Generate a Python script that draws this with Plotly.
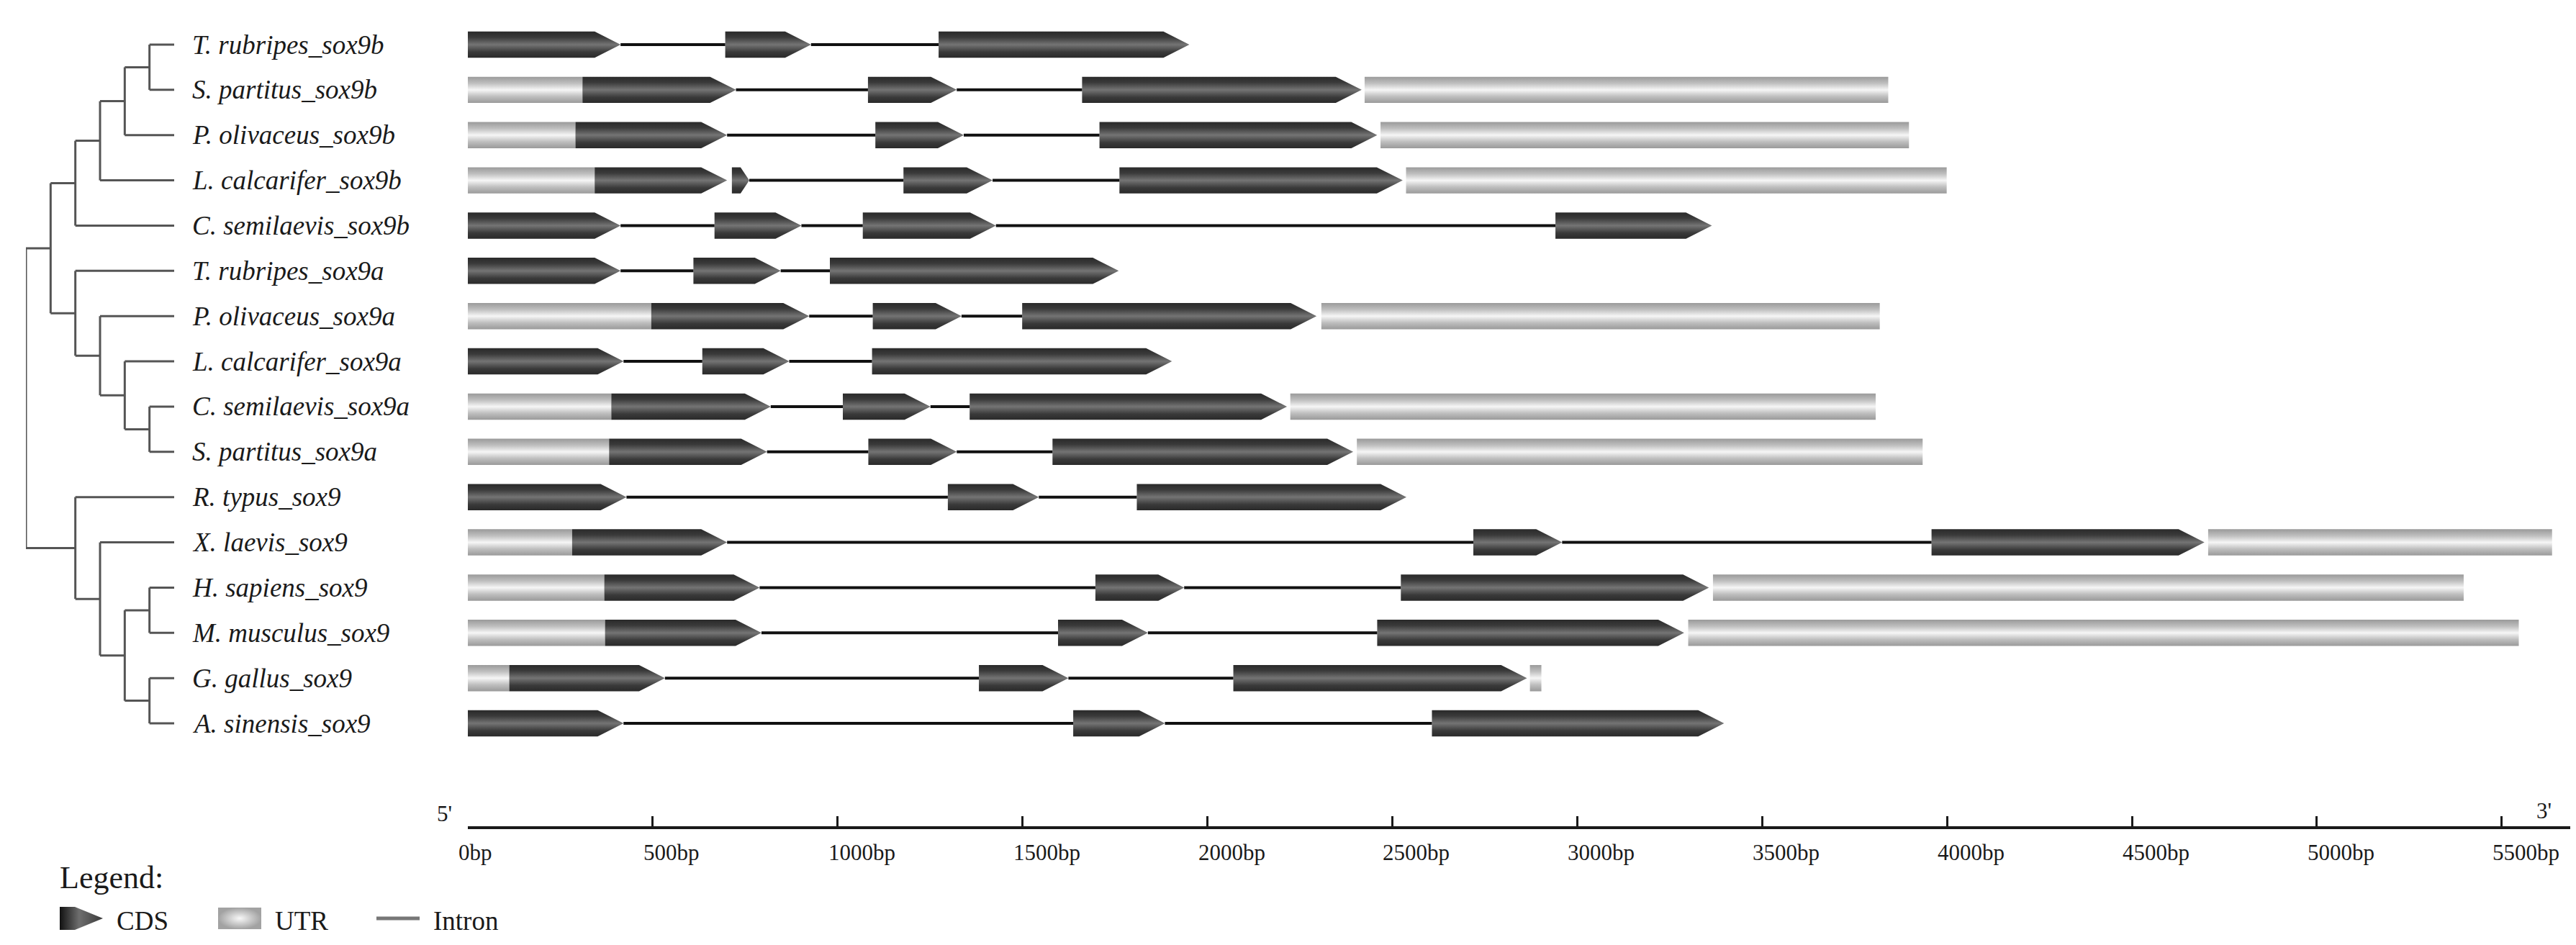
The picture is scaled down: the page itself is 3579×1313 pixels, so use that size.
import plotly.graph_objects as go

W, H = 3579, 1313

# ---- cladogram (leaf order gives the row order, top to bottom) ----
SOX9B = (((("T. rubripes_sox9b", "S. partitus_sox9b"), "P. olivaceus_sox9b"),
          "L. calcarifer_sox9b"), "C. semilaevis_sox9b")
SOX9A = ("T. rubripes_sox9a", ("P. olivaceus_sox9a", ("L. calcarifer_sox9a",
                                                      ("C. semilaevis_sox9a", "S. partitus_sox9a"))))
SOX9 = ("R. typus_sox9", ("X. laevis_sox9", (("H. sapiens_sox9", "M. musculus_sox9"),
                                             ("G. gallus_sox9", "A. sinensis_sox9"))))
TREE = ((SOX9B, SOX9A), SOX9)

# ---- gene structures: (kind, start bp, end bp); introns join consecutive parts ----
T_RUBRIPES_SOX9B = [("CDS", 0, 413), ("CDS", 696, 928), ("CDS", 1273, 1951)]
S_PARTITUS_SOX9B = [("UTR", 0, 310), ("CDS", 310, 725), ("CDS", 1082, 1322),
                    ("CDS", 1661, 2417), ("UTR", 2425, 3841)]
P_OLIVACEUS_SOX9B = [("UTR", 0, 291), ("CDS", 291, 701), ("CDS", 1102, 1341),
                     ("CDS", 1708, 2459), ("UTR", 2468, 3897)]
L_CALCARIFER_SOX9B = [("UTR", 0, 343), ("CDS", 343, 701), ("CDS", 714, 761), ("CDS", 1178, 1419),
                      ("CDS", 1762, 2528), ("UTR", 2537, 3999)]
C_SEMILAEVIS_SOX9B = [("CDS", 0, 413), ("CDS", 667, 902), ("CDS", 1068, 1428), ("CDS", 2941, 3364)]
T_RUBRIPES_SOX9A = [("CDS", 0, 413), ("CDS", 610, 846), ("CDS", 979, 1760)]
P_OLIVACEUS_SOX9A = [("UTR", 0, 496), ("CDS", 496, 923), ("CDS", 1095, 1335),
                     ("CDS", 1499, 2295), ("UTR", 2308, 3818)]
L_CALCARIFER_SOX9A = [("CDS", 0, 421), ("CDS", 634, 869), ("CDS", 1093, 1904)]
C_SEMILAEVIS_SOX9A = [("UTR", 0, 388), ("CDS", 388, 819), ("CDS", 1014, 1251),
                      ("CDS", 1357, 2215), ("UTR", 2224, 3807)]
S_PARTITUS_SOX9A = [("UTR", 0, 382), ("CDS", 382, 809), ("CDS", 1083, 1322),
                    ("CDS", 1581, 2394), ("UTR", 2404, 3934)]
R_TYPUS_SOX9 = [("CDS", 0, 429), ("CDS", 1298, 1544), ("CDS", 1809, 2538)]
X_LAEVIS_SOX9 = [("UTR", 0, 282), ("CDS", 282, 701), ("CDS", 2719, 2959),
                 ("CDS", 3958, 4696), ("UTR", 4706, 5636)]
H_SAPIENS_SOX9 = [("UTR", 0, 369), ("CDS", 369, 789), ("CDS", 1697, 1937),
                  ("CDS", 2523, 3356), ("UTR", 3367, 5397)]
M_MUSCULUS_SOX9 = [("UTR", 0, 371), ("CDS", 371, 794), ("CDS", 1596, 1839),
                   ("CDS", 2459, 3289), ("UTR", 3300, 5546)]
G_GALLUS_SOX9 = [("UTR", 0, 112), ("CDS", 112, 533), ("CDS", 1382, 1624),
                 ("CDS", 2070, 2864), ("UTR", 2872, 2903)]
A_SINENSIS_SOX9 = [("CDS", 0, 421), ("CDS", 1637, 1885), ("CDS", 2607, 3397)]

STRUCTURES = {
    "T. rubripes_sox9b": T_RUBRIPES_SOX9B, "S. partitus_sox9b": S_PARTITUS_SOX9B,
    "P. olivaceus_sox9b": P_OLIVACEUS_SOX9B, "L. calcarifer_sox9b": L_CALCARIFER_SOX9B,
    "C. semilaevis_sox9b": C_SEMILAEVIS_SOX9B, "T. rubripes_sox9a": T_RUBRIPES_SOX9A,
    "P. olivaceus_sox9a": P_OLIVACEUS_SOX9A, "L. calcarifer_sox9a": L_CALCARIFER_SOX9A,
    "C. semilaevis_sox9a": C_SEMILAEVIS_SOX9A, "S. partitus_sox9a": S_PARTITUS_SOX9A,
    "R. typus_sox9": R_TYPUS_SOX9, "X. laevis_sox9": X_LAEVIS_SOX9,
    "H. sapiens_sox9": H_SAPIENS_SOX9, "M. musculus_sox9": M_MUSCULUS_SOX9,
    "G. gallus_sox9": G_GALLUS_SOX9, "A. sinensis_sox9": A_SINENSIS_SOX9,
}

TICKS = [0, 500, 1000, 1500, 2000, 2500, 3000, 3500, 4000, 4500, 5000, 5500]
AXIS_END = 5691
LEGEND_ITEMS = ["CDS", "UTR", "Intron"]

SERIF = "Liberation Serif"
INK = "#1a1a1a"
CDS_SCALE = [[0, "#2a2a2a"], [0.22, "#3a3a3a"], [0.5, "#747474"], [0.78, "#3a3a3a"], [1, "#2a2a2a"]]
UTR_SCALE = [[0, "#9a9a9a"], [0.25, "#bfbfbf"], [0.5, "#f6f6f6"], [0.75, "#bfbfbf"], [1, "#9a9a9a"]]
HALF = 0.29      # half box height, in rows
HEAD = 70        # arrow head length, bp


def leaves(node):
    if isinstance(node, str):
        return [node]
    return [l for c in node for l in leaves(c)]


def height(node):
    return 0 if isinstance(node, str) else 1 + max(height(c) for c in node)


LEAVES = leaves(TREE)
TOP = height(TREE)


def walk(node, xs, ys):
    if isinstance(node, str):
        return TOP, LEAVES.index(node)
    x = TOP - height(node)
    kids = [walk(c, xs, ys) for c in node]
    y = sum(k[1] for k in kids) / len(kids)
    xs += [x, x, None]
    ys += [kids[0][1], kids[-1][1], None]
    for kx, ky in kids:
        xs += [x, kx, None]
        ys += [ky, ky, None]
    return x, y


def arrow(s, e, yc, half, head):
    return ([s, e - head, e, e - head, s, s, None],
            [yc - half, yc - half, yc, yc + half, yc + half, yc - half, None])


def box(s, e, yc, half):
    return [s, e, e, s, s, None], [yc - half, yc - half, yc + half, yc + half, yc - half, None]


fig = go.Figure()

# tree
tx, ty = [], []
walk(TREE, tx, ty)
fig.add_trace(go.Scatter(x=tx, y=ty, xaxis="x2", yaxis="y", mode="lines",
                         line=dict(color="#555555", width=3), hoverinfo="skip", showlegend=False))

# genes
ix, iy = [], []
for row, name in enumerate(LEAVES):
    parts = STRUCTURES[name]
    cx, cy, ux, uy = [], [], [], []
    for kind, s, e in parts:
        if kind == "CDS":
            px, py = arrow(s, e, row, HALF, min(HEAD, (e - s) / 2))
            cx += px
            cy += py
        else:
            px, py = box(s, e, row, HALF)
            ux += px
            uy += py
    for (_, _, e0), (_, s1, _) in zip(parts[:-1], parts[1:]):
        if s1 - e0 > 20:
            ix += [e0, s1, None]
            iy += [row, row, None]
    if ux:
        fig.add_trace(go.Scatter(x=ux, y=uy, mode="lines", fill="toself", line=dict(width=0),
                                 fillgradient=dict(type="vertical", colorscale=UTR_SCALE),
                                 hoverinfo="skip", showlegend=False))
    fig.add_trace(go.Scatter(x=cx, y=cy, mode="lines", fill="toself", line=dict(width=0),
                             fillgradient=dict(type="vertical", colorscale=CDS_SCALE),
                             hoverinfo="skip", showlegend=False))

fig.add_trace(go.Scatter(x=ix, y=iy, mode="lines", line=dict(color="#111111", width=4),
                         hoverinfo="skip", showlegend=False))

# legend key, drawn on a small pixel-unit subplot (x3/y3) in the bottom-left corner
KEY_W_PX, KEY_TOP_PX = 900, 1170
ann = []
key_x0, key_step, key_y, key_w, key_h = 75, 220, 1268, 60, 15
for i, item in enumerate(LEGEND_ITEMS):
    left = key_x0 + i * key_step
    if item == "CDS":
        px, py = arrow(left, left + key_w, key_y, key_h + 1, 0.65 * key_w)
        fig.add_trace(go.Scatter(x=px, y=py, xaxis="x3", yaxis="y3", mode="lines", fill="toself",
                                 line=dict(width=0), hoverinfo="skip", showlegend=False,
                                 fillgradient=dict(type="horizontal",
                                                   colorscale=[[0, "#111111"], [0.45, "#6e6e6e"],
                                                               [1, "#3a3a3a"]])))
    elif item == "UTR":
        px, py = box(left, left + key_w, key_y, key_h)
        fig.add_trace(go.Scatter(x=px, y=py, xaxis="x3", yaxis="y3", mode="lines", fill="toself",
                                 line=dict(width=0), hoverinfo="skip", showlegend=False,
                                 fillgradient=dict(type="radial",
                                                   colorscale=[[0, "#f8f8f8"], [1, "#a2a2a2"]])))
    else:
        fig.add_trace(go.Scatter(x=[left, left + key_w], y=[key_y, key_y], xaxis="x3", yaxis="y3",
                                 mode="lines", line=dict(color="#777777", width=5),
                                 hoverinfo="skip", showlegend=False))
    ann.append(dict(x=left + key_w + 17, y=key_y + 3, xref="x3", yref="y3", text=item,
                    showarrow=False, xanchor="left", yanchor="middle",
                    font=dict(family=SERIF, size=37, color=INK)))
ann.append(dict(x=key_x0 - 2, y=1211, xref="x3", yref="y3", text="Legend:", showarrow=False,
                xanchor="left", yanchor="middle", font=dict(family=SERIF, size=44, color=INK)))

for row, name in enumerate(LEAVES):
    ann.append(dict(x=TOP, y=row, xref="x2", yref="y", text=name, showarrow=False,
                    xanchor="left", yanchor="middle", xshift=23,
                    font=dict(family=SERIF, size=37, style="italic", color=INK)))
for t in TICKS:
    ann.append(dict(x=t, y=1 - 1157 / H, xref="x", yref="paper", text=f"{t}bp", showarrow=False,
                    xanchor="left", yanchor="top", xshift=-15,
                    font=dict(family=SERIF, size=31, color=INK)))
ann.append(dict(x=0, y=1 - 1122 / H, xref="x", yref="paper", text="5'", showarrow=False,
                xanchor="right", yanchor="middle", xshift=-20,
                font=dict(family=SERIF, size=31, color=INK)))
ann.append(dict(x=AXIS_END, y=1 - 1118 / H, xref="x", yref="paper", text="3'", showarrow=False,
                xanchor="right", yanchor="middle", xshift=-27,
                font=dict(family=SERIF, size=31, color=INK)))

row_px, first_px = 62.87, 54
fig.update_layout(
    width=W, height=H,
    margin=dict(l=0, r=0, t=0, b=0),
    paper_bgcolor="white", plot_bgcolor="rgba(0,0,0,0)",
    font=dict(family=SERIF, color=INK),
    showlegend=False,
    xaxis=dict(domain=[642 / W, 3566 / W], range=[0, AXIS_END], anchor="free",
               position=1 - 1142 / H, showline=True, linewidth=4, linecolor=INK,
               ticks="inside", ticklen=14, tickwidth=3, tickcolor=INK,
               tickvals=TICKS, showticklabels=False, showgrid=False, zeroline=False),
    xaxis2=dict(domain=[28 / W, 234 / W], range=[0, TOP], anchor="y", visible=False),
    yaxis=dict(range=[(H - first_px) / row_px, -first_px / row_px], domain=[0, 1],
               anchor="x2", visible=False),
    xaxis3=dict(domain=[0, KEY_W_PX / W], range=[0, KEY_W_PX], anchor="y3", visible=False),
    yaxis3=dict(domain=[0, (H - KEY_TOP_PX) / H], range=[H, KEY_TOP_PX], anchor="x3",
                visible=False),
    annotations=ann,
)

fig.write_html("out.html")
